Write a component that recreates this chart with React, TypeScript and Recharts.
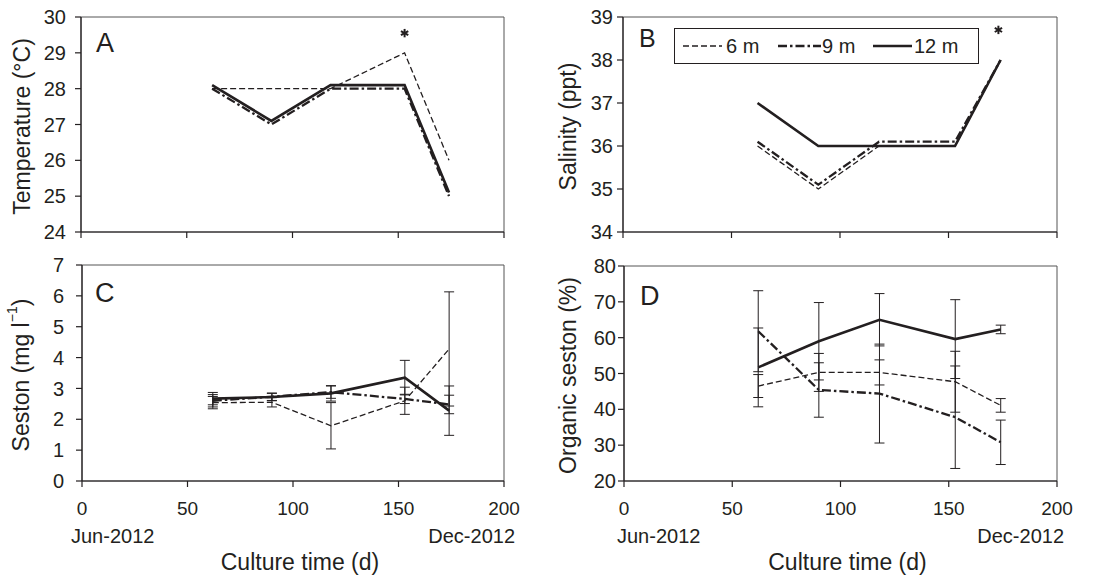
import React from 'react';
import {
  ComposedChart,
  Line,
  XAxis,
  YAxis,
  ErrorBar,
  ReferenceArea,
  ReferenceDot,
  Legend,
  Label,
} from 'recharts';

const FONT = '"Liberation Sans", Arial, Helvetica, sans-serif';
const INK = '#231f20';

// ---------- data ----------
const days = [62, 90, 118, 153, 174];
const xTicks = [0, 50, 100, 150, 200];
const seriesNames = ['6 m', '9 m', '12 m'];

// A: temperature (°C)
const temp6 = [28, 28, 28, 29, 26];
const temp9 = [28, 27, 28, 28, 25];
const temp12 = [28.1, 27.1, 28.1, 28.1, 25.1];
const tempTicks = [24, 25, 26, 27, 28, 29, 30];
const tempStar = { day: 153, value: 29.55 };

// B: salinity (ppt)
const sal6 = [36, 35, 36, 36, 38];
const sal9 = [36.1, 35.1, 36.1, 36.1, 38];
const sal12 = [37, 36, 36, 36, 38];
const salTicks = [34, 35, 36, 37, 38, 39];
const salStar = { day: 173, value: 38.7 };

// C: seston (mg l-1)
const ses6 = [2.54, 2.55, 1.79, 2.6, 4.28];
const ses9 = [2.6, 2.73, 2.88, 2.66, 2.48];
const ses12 = [2.67, 2.72, 2.84, 3.35, 2.28];
const sesErr6 = [0.2, 0.15, 0.75, 0.44, 1.85];
const sesErr9 = [0.2, 0.12, 0.2, 0.15, 0.3];
const sesErr12 = [0.2, 0.12, 0.25, 0.56, 0.8];
const sesTicks = [0, 1, 2, 3, 4, 5, 6, 7];

// D: organic seston (%)
const org6 = [46.5, 50.3, 50.3, 47.7, 41.1];
const org9 = [61.8, 45.4, 44.4, 37.8, 30.8];
const org12 = [51.7, 59.0, 65.0, 59.6, 62.3];
const orgErr6 = [3.2, 5.3, 3.5, 8.5, 1.9];
const orgErr9 = [11.3, 7.6, 13.8, 14.3, 6.2];
const orgErr12 = [11.0, 10.8, 7.3, 11.0, 1.2];
const orgTicks = [20, 30, 40, 50, 60, 70, 80];

// ---------- styles ----------
const lineStyles = [
  { dash: '6 3', w: 1.3 },
  { dash: '9 3 2.5 3', w: 2.3 },
  { dash: undefined as string | undefined, w: 2.6 },
];

function buildRows(series: number[][], errors?: number[][]) {
  return days.map((d, i) => {
    const row: any = { day: d };
    series.forEach((s, k) => {
      row['v' + k] = s[i];
      if (errors) row['e' + k] = errors[k][i];
    });
    return row;
  });
}

const StarShape = (props: any) => {
  const { cx, cy } = props;
  if (cx == null || cy == null) return null;
  const r = 4.2;
  const spokes = [90, 30, -30];
  return (
    <g>
      {spokes.map((a) => {
        const rad = (a * Math.PI) / 180;
        const dx = r * Math.cos(rad);
        const dy = r * Math.sin(rad);
        return (
          <line
            key={a}
            x1={cx - dx}
            y1={cy - dy}
            x2={cx + dx}
            y2={cy + dy}
            stroke={INK}
            strokeWidth={2}
          />
        );
      })}
    </g>
  );
};

const LegendBox = () => {
  const lx = [9, 104, 199];
  const tx = [52, 148, 240];
  return (
    <svg width={305} height={36} style={{ display: 'block' }}>
      <rect x={0.5} y={0.5} width={304} height={35} fill="#fff" stroke={INK} strokeWidth={1} />
      {seriesNames.map((n, k) => (
        <g key={n}>
          <line
            x1={lx[k]}
            x2={lx[k] + (k === 1 ? 43 : 39)}
            y1={18}
            y2={18}
            stroke={INK}
            strokeWidth={lineStyles[k].w}
            strokeDasharray={lineStyles[k].dash}
          />
          <text x={tx[k]} y={25} fontSize={20} fontFamily={FONT} fill={INK}>
            {n}
          </text>
        </g>
      ))}
    </svg>
  );
};

type PanelProps = {
  left: number;
  top: number;
  width: number;
  height: number;
  margin: { top: number; right: number; bottom: number; left: number };
  yWidth: number;
  xHeight: number;
  yDomain: [number, number];
  yTicks: number[];
  yTickMargin: number;
  series: number[][];
  errors?: number[][];
  bottom: boolean;
  letter: string;
  letterDx: number;
  letterDy: number;
  letterSize: number;
  labelDx: number;
  yLabel: React.ReactNode;
  star?: { day: number; value: number };
  legend?: boolean;
  jdx: number;
};

function Panel(p: PanelProps) {
  const data = buildRows(p.series, p.errors);

  const YLabelContent = (props: any) => {
    const vb = props.viewBox || {};
    const cx = vb.x + p.labelDx;
    const cy = vb.y + vb.height / 2 + 2;
    return (
      <g>
        <text
          x={cx}
          y={cy}
          transform={`rotate(-90 ${cx} ${cy})`}
          textAnchor="middle"
          dominantBaseline="central"
          fontSize={23}
          fontFamily={FONT}
          fill={INK}
        >
          {p.yLabel}
        </text>
        <text
          x={vb.x + vb.width + p.letterDx}
          y={vb.y + p.letterDy}
          fontSize={p.letterSize}
          fontFamily={FONT}
          fill={INK}
        >
          {p.letter}
        </text>
      </g>
    );
  };

  const XLabelContent = (props: any) => {
    const vb = props.viewBox || {};
    return (
      <g fontFamily={FONT} fill={INK}>
        <text x={vb.x - p.jdx} y={vb.y + 62} fontSize={20} textAnchor="start">
          Jun-2012
        </text>
        <text x={vb.x + vb.width + p.jdx} y={vb.y + 62} fontSize={20} textAnchor="end">
          Dec-2012
        </text>
        <text x={vb.x + vb.width / 2 + 7} y={vb.y + 89} fontSize={23} textAnchor="middle">
          Culture time (d)
        </text>
      </g>
    );
  };

  return (
    <div style={{ position: 'absolute', left: p.left, top: p.top }}>
      <ComposedChart width={p.width} height={p.height} data={data} margin={p.margin}>
        <ReferenceArea
          x1={0}
          x2={200}
          y1={p.yDomain[0]}
          y2={p.yDomain[1]}
          fill="none"
          stroke="#555"
          strokeWidth={1}
        />
        <XAxis
          dataKey="day"
          type="number"
          domain={[0, 200]}
          ticks={xTicks}
          interval={0}
          allowDataOverflow
          height={p.xHeight}
          tickSize={6}
          tickMargin={15}
          axisLine={{ stroke: INK, strokeWidth: 1.2 }}
          tickLine={{ stroke: INK, strokeWidth: 1.2 }}
          tick={{ fill: INK, fontSize: 19, fontFamily: FONT }}
          tickFormatter={p.bottom ? undefined : () => ''}
        >
          {p.bottom && <Label content={XLabelContent} />}
        </XAxis>
        <YAxis
          type="number"
          domain={p.yDomain}
          ticks={p.yTicks}
          interval={0}
          allowDataOverflow
          width={p.yWidth}
          tickSize={6}
          tickMargin={p.yTickMargin}
          axisLine={{ stroke: INK, strokeWidth: 1.2 }}
          tickLine={{ stroke: INK, strokeWidth: 1.2 }}
          tick={{ fill: INK, fontSize: 20, fontFamily: FONT }}
        >
          <Label content={YLabelContent} />
        </YAxis>
        {[0, 1, 2].map((k) => (
          <Line
            key={k}
            type="linear"
            dataKey={'v' + k}
            name={seriesNames[k]}
            stroke={INK}
            strokeWidth={lineStyles[k].w}
            strokeDasharray={lineStyles[k].dash}
            dot={false}
            activeDot={false}
            isAnimationActive={false}
          >
            {p.errors && (
              <ErrorBar
                dataKey={'e' + k}
                width={5}
                stroke={INK}
                strokeWidth={1}
                direction="y"
                isAnimationActive={false}
              />
            )}
          </Line>
        ))}
        {p.star && (
          <ReferenceDot x={p.star.day} y={p.star.value} r={4} shape={StarShape} />
        )}
        {p.legend && (
          <Legend
            layout="vertical"
            align="center"
            verticalAlign="middle"
            content={LegendBox}
            wrapperStyle={{ position: 'absolute', left: 120, top: 28, width: 305, height: 36 }}
          />
        )}
      </ComposedChart>
    </div>
  );
}

export default function App() {
  return (
    <div style={{ position: 'absolute', left: 0, top: 0, width: 1108, height: 580, background: '#fff' }}>
      <Panel
        left={0}
        top={0}
        width={548}
        height={258}
        margin={{ top: 17, right: 44, bottom: 0, left: 0 }}
        yWidth={81}
        xHeight={26}
        yDomain={[24, 30]}
        yTicks={tempTicks}
        yTickMargin={9}
        series={[temp6, temp9, temp12]}
        bottom={false}
        letter="A"
        letterDx={15}
        letterDy={35}
        letterSize={27}
        labelDx={22}
        yLabel="Temperature (°C)"
        star={tempStar}
        jdx={11}
      />
      <Panel
        left={554}
        top={0}
        width={540}
        height={258}
        margin={{ top: 17, right: 37, bottom: 0, left: 0 }}
        yWidth={69}
        xHeight={26}
        yDomain={[34, 39]}
        yTicks={salTicks}
        yTickMargin={4}
        series={[sal6, sal9, sal12]}
        bottom={false}
        letter="B"
        letterDx={16}
        letterDy={30}
        letterSize={25}
        labelDx={14}
        yLabel="Salinity (ppt)"
        star={salStar}
        legend
        jdx={7}
      />
      <Panel
        left={0}
        top={250}
        width={548}
        height={330}
        margin={{ top: 15, right: 44, bottom: 0, left: 0 }}
        yWidth={82}
        xHeight={99}
        yDomain={[0, 7]}
        yTicks={sesTicks}
        yTickMargin={12}
        series={[ses6, ses9, ses12]}
        errors={[sesErr6, sesErr9, sesErr12]}
        bottom
        letter="C"
        letterDx={13}
        letterDy={37}
        letterSize={27}
        labelDx={21}
        yLabel={
          <>
            Seston (mg l
            <tspan dy={-9} fontSize={14}>
              −1
            </tspan>
            <tspan dy={9}>)</tspan>
          </>
        }
        jdx={11}
      />
      <Panel
        left={554}
        top={250}
        width={540}
        height={330}
        margin={{ top: 16, right: 37, bottom: 0, left: 0 }}
        yWidth={70}
        xHeight={99}
        yDomain={[20, 80]}
        yTicks={orgTicks}
        yTickMargin={2}
        series={[org6, org9, org12]}
        errors={[orgErr6, orgErr9, orgErr12]}
        bottom
        letter="D"
        letterDx={16}
        letterDy={39}
        letterSize={27}
        labelDx={14}
        yLabel="Organic seston (%)"
        jdx={7}
      />
    </div>
  );
}
